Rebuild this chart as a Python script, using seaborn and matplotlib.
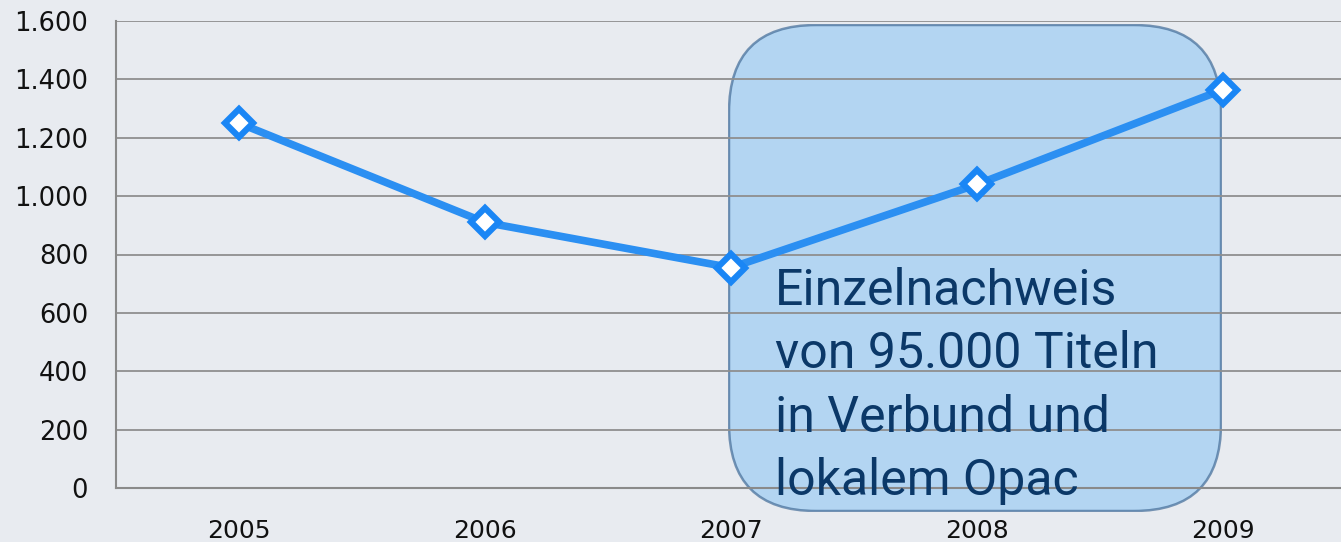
import matplotlib
matplotlib.use("Agg")
import matplotlib.pyplot as plt
import matplotlib.ticker as mticker
from matplotlib.patches import FancyBboxPatch
import seaborn as sns
import pandas as pd
import numpy as np

years = ["2005", "2006", "2007", "2008", "2009"]
values = [1250, 910, 755, 1040, 1365]
y_ticks = [0, 200, 400, 600, 800, 1000, 1200, 1400, 1600]
note_lines = ["Einzelnachweis", "von 95.000 Titeln", "in Verbund und", "lokalem Opac"]

sns.set_theme(style="white")
plt.rcParams['font.family'] = ['DejaVu Sans']

W, H = 1341, 542
bg = "#E8EBF0"
fig = plt.figure(figsize=(W/100, H/100), dpi=100, facecolor=bg)

# Annotation box (pixel-space axes, drawn behind the chart's line)
bx0, by0, bx1, by1 = 728, 24, 1222, 512
box_ax = fig.add_axes([bx0/W, 1 - by1/H, (bx1 - bx0)/W, (by1 - by0)/H], zorder=0)
box_ax.set_xlim(0, bx1 - bx0)
box_ax.set_ylim(0, by1 - by0)
box_ax.axis("off")
box_ax.patch.set_alpha(0)
r = 88
patch = FancyBboxPatch((r, r), (bx1 - bx0) - 2*r, (by1 - by0) - 2*r,
                       boxstyle=f"round,pad={r - 1}", facecolor="#9FCDF3", alpha=0.72,
                       edgecolor="#466F9A", linewidth=1.8)
box_ax.add_patch(patch)

ax = fig.add_axes([116/W, 1 - 488/H, 1 - 116/W + 5/W, (488 - 21)/H], zorder=1)
ax.patch.set_alpha(0)

df = pd.DataFrame({"pos": np.arange(len(years)), "value": values})
sns.lineplot(data=df, x="pos", y="value", ax=ax, color="#2B8FF2", linewidth=5.5,
             marker="D", markersize=14, markerfacecolor="white",
             markeredgecolor="#1A86F5", markeredgewidth=4.5, zorder=3)

ax.set_xlim(-0.5, len(years) - 0.5)
ax.set_ylim(0, 1600)
ax.set_yticks(y_ticks)
ax.yaxis.set_major_formatter(mticker.FuncFormatter(lambda v, p: f"{v:,.0f}".replace(",", ".")))
ax.set_xticks(np.arange(len(years)))
ax.set_xticklabels(years)
ax.set_xticks(np.arange(-0.5, len(years), 1.0), minor=True)
ax.tick_params(axis="x", which="major", length=0, pad=22, labelsize=18, labelcolor="#111111")
ax.tick_params(axis="x", which="minor", length=8, width=1.3, color="#8a8a8a", direction="out")
ax.tick_params(axis="y", which="major", length=8, width=1.3, color="#8a8a8a", pad=12,
               labelsize=18.5, labelcolor="#111111")
ax.set_xlabel("")
ax.set_ylabel("")
ax.grid(axis="y", color="#8f8f8f", linewidth=1.3)
ax.grid(axis="x", visible=False)
for s in ["top", "right"]:
    ax.spines[s].set_visible(False)
for s in ["left", "bottom"]:
    ax.spines[s].set_color("#8a8a8a")
    ax.spines[s].set_linewidth(1.5)
ax.set_axisbelow(True)

baselines = [305, 368, 432, 495]
for line, yb in zip(note_lines, baselines):
    fig.text(775/W, 1 - yb/H, line, ha="left", va="baseline", fontsize=36,
             color="#0B3868", family=["Roboto", "DejaVu Sans"], zorder=5)

fig.savefig("out.png", dpi=100, facecolor=bg)
